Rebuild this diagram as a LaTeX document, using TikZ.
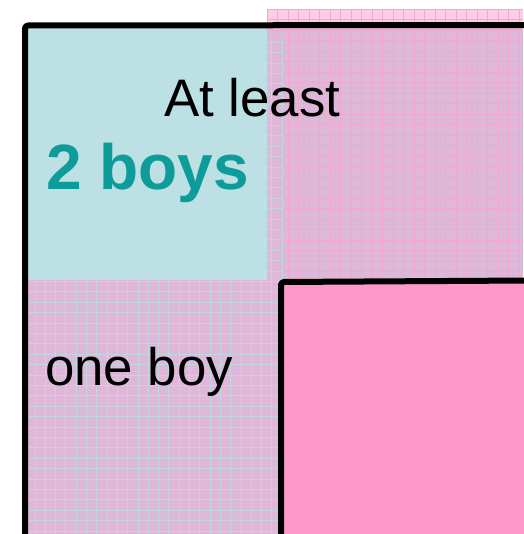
\documentclass[tikz,border=0pt]{standalone}
\usepackage{fontspec}
\setmainfont{Liberation Sans}
\definecolor{tealbg}{HTML}{BCE0E3}
\definecolor{mauve}{HTML}{DDB8D8}
\definecolor{lightpink}{HTML}{FFCCE6}
\definecolor{pinkline}{HTML}{F3A6D0}
\definecolor{tealline}{HTML}{C2D6E0}
\definecolor{solidpink}{HTML}{FD98C9}
\definecolor{tealtext}{HTML}{0E9C9B}
\tikzset{
  border/.style={line width=6pt, black, line join=round, rounded corners=3pt},
  pgrid/.style={pinkline, line width=0.9pt},
  tgrid/.style={tealline, line width=0.9pt},
  label/.style={inner sep=0pt, anchor=base west, font=\fontsize{52.8}{60}\selectfont},
}
\begin{document}
\begin{tikzpicture}[x=1pt,y=-1pt]
\useasboundingbox (0,0) rectangle (523,534);
% pink grid region (top right)
\fill[lightpink] (267,9) rectangle (523,280);
\fill[mauve] (267,25) rectangle (523,280);
\begin{scope}
  \clip (267,9) rectangle (523,280);
  \foreach \i in {0,...,25} {\draw[pgrid] ({267+\i*10.5},9) -- ({267+\i*10.5},280);}
  \foreach \i in {0,...,26} {\draw[pgrid] (267,{9+\i*10.5}) -- (523,{9+\i*10.5});}
\end{scope}
% teal-lined region (lower left)
\fill[mauve] (25,38) rectangle (283,534);
\begin{scope}
  \clip (25,38) rectangle (283,534);
  \foreach \i in {-1,...,25} {\draw[tgrid] ({35+\i*10.3},38) -- ({35+\i*10.3},534);}
  \foreach \i in {0,...,50} {\draw[tgrid] (25,{531-\i*10.4}) -- (283,{531-\i*10.4});}
\end{scope}
% teal solid region
\fill[tealbg] (25,25) rectangle (267,280);
% solid pink region
\fill[solidpink] (281,282) rectangle (530,540);
% borders
\draw[border] (25,545) -- (25,25.5) -- (530,25);
\draw[border] (281,545) -- (281,282) -- (530,280.5);
% texts
\node[label] (atleast) at (164,117) {At least};
\node[label, font=\fontsize{64}{70}\selectfont\bfseries, text=tealtext] (twoboys) at (46,190) {2 boys};
\node[label] (oneboy) at (45,385) {one boy};
\end{tikzpicture}
\end{document}
